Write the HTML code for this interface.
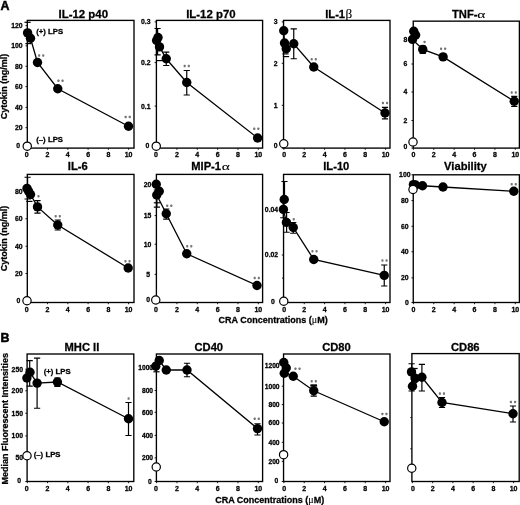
<!DOCTYPE html>
<html><head><meta charset="utf-8"><title>Figure</title>
<style>
html,body{margin:0;padding:0;background:#fff;}
body{width:520px;height:505px;overflow:hidden;font-family:"Liberation Sans", sans-serif;}
svg{display:block;font-family:"Liberation Sans", sans-serif;will-change:transform;}
text{stroke:#000;stroke-width:0.28px;}
tspan.g{stroke-width:0.1px;}

</style></head><body>
<svg width="520" height="505" viewBox="0 0 520 505">
<defs><filter id="soft" x="0" y="0" width="520" height="505" filterUnits="userSpaceOnUse"><feGaussianBlur stdDeviation="0.3"/></filter></defs>
<rect x="0" y="0" width="520" height="505" fill="#fff"/>
<g filter="url(#soft)">
<rect x="27.3" y="20.4" width="106.70" height="127.70" fill="none" stroke="#000" stroke-width="1.35"/>
<text x="83.3" y="17.7" text-anchor="middle" font-size="11.45" font-weight="bold">IL-12 p40</text>
<text x="22.60" y="28.07" text-anchor="end" font-size="6.85" font-weight="bold">120</text>
<line x1="25.5" y1="25.6" x2="27.3" y2="25.6" stroke="#000" stroke-width="0.9"/>
<text x="22.60" y="48.27" text-anchor="end" font-size="6.85" font-weight="bold">100</text>
<line x1="25.5" y1="45.8" x2="27.3" y2="45.8" stroke="#000" stroke-width="0.9"/>
<text x="22.60" y="68.72" text-anchor="end" font-size="6.85" font-weight="bold">80</text>
<line x1="25.5" y1="66.25" x2="27.3" y2="66.25" stroke="#000" stroke-width="0.9"/>
<text x="22.60" y="89.07" text-anchor="end" font-size="6.85" font-weight="bold">60</text>
<line x1="25.5" y1="86.6" x2="27.3" y2="86.6" stroke="#000" stroke-width="0.9"/>
<text x="22.60" y="109.87" text-anchor="end" font-size="6.85" font-weight="bold">40</text>
<line x1="25.5" y1="107.4" x2="27.3" y2="107.4" stroke="#000" stroke-width="0.9"/>
<text x="22.60" y="130.17" text-anchor="end" font-size="6.85" font-weight="bold">20</text>
<line x1="25.5" y1="127.7" x2="27.3" y2="127.7" stroke="#000" stroke-width="0.9"/>
<text x="20.00" y="148.07" text-anchor="end" font-size="6.85" font-weight="bold">0</text>
<line x1="25.5" y1="148.1" x2="27.3" y2="148.1" stroke="#000" stroke-width="0.9"/>
<text x="26.60" y="157.12" text-anchor="middle" font-size="7.0" font-weight="bold">0</text>
<line x1="27.30" y1="148.1" x2="27.30" y2="149.79999999999998" stroke="#000" stroke-width="0.9"/>
<text x="47.56" y="157.12" text-anchor="middle" font-size="7.0" font-weight="bold">2</text>
<line x1="47.56" y1="148.1" x2="47.56" y2="149.79999999999998" stroke="#000" stroke-width="0.9"/>
<text x="67.82" y="157.12" text-anchor="middle" font-size="7.0" font-weight="bold">4</text>
<line x1="67.82" y1="148.1" x2="67.82" y2="149.79999999999998" stroke="#000" stroke-width="0.9"/>
<text x="88.08" y="157.12" text-anchor="middle" font-size="7.0" font-weight="bold">6</text>
<line x1="88.08" y1="148.1" x2="88.08" y2="149.79999999999998" stroke="#000" stroke-width="0.9"/>
<text x="108.34" y="157.12" text-anchor="middle" font-size="7.0" font-weight="bold">8</text>
<line x1="108.34" y1="148.1" x2="108.34" y2="149.79999999999998" stroke="#000" stroke-width="0.9"/>
<text x="128.60" y="157.12" text-anchor="middle" font-size="7.0" font-weight="bold">10</text>
<line x1="128.60" y1="148.1" x2="128.60" y2="149.79999999999998" stroke="#000" stroke-width="0.9"/>
<path d="M24.5 22.3H30.700000000000003" stroke="#000" stroke-width="1.2" fill="none"/>
<path d="M25.4 43.6H31.6" stroke="#000" stroke-width="1.2" fill="none"/>
<path d="M27.6 32.9L30.5 38.2L37.5 62.5L57.75 88.75L128.5 126.25" stroke="#000" stroke-width="1.3" fill="none"/>
<circle cx="27.6" cy="32.9" r="4.7" fill="#000"/>
<circle cx="30.5" cy="38.2" r="4.7" fill="#000"/>
<circle cx="37.5" cy="62.5" r="4.7" fill="#000"/>
<circle cx="57.75" cy="88.75" r="4.7" fill="#000"/>
<circle cx="128.5" cy="126.25" r="4.7" fill="#000"/>
<rect x="38.10" y="54.25" width="2.1" height="2.5" rx="0.7" fill="#747474"/>
<rect x="42.20" y="54.25" width="2.1" height="2.5" rx="0.7" fill="#747474"/>
<rect x="57.40" y="79.50" width="2.1" height="2.5" rx="0.7" fill="#747474"/>
<rect x="61.50" y="79.50" width="2.1" height="2.5" rx="0.7" fill="#747474"/>
<rect x="124.65" y="115.65" width="2.1" height="2.5" rx="0.7" fill="#747474"/>
<rect x="128.75" y="115.65" width="2.1" height="2.5" rx="0.7" fill="#747474"/>
<text x="36.2" y="34.0" font-size="7.8" font-weight="bold">(+) LPS</text>
<text x="36.2" y="141.5" font-size="7.8" font-weight="bold">(–) LPS</text>
<circle cx="27.25" cy="146.2" r="4.15" fill="#fff" stroke="#000" stroke-width="1.2"/>
<rect x="156.4" y="20.4" width="106.20" height="127.70" fill="none" stroke="#000" stroke-width="1.35"/>
<text x="210.9" y="17.7" text-anchor="middle" font-size="11.4" font-weight="bold">IL-12 p70</text>
<text x="150.50" y="24.37" text-anchor="end" font-size="6.85" font-weight="bold">0.3</text>
<line x1="154.6" y1="21.9" x2="156.4" y2="21.9" stroke="#000" stroke-width="0.9"/>
<text x="150.50" y="65.07" text-anchor="end" font-size="6.85" font-weight="bold">0.2</text>
<line x1="154.6" y1="62.6" x2="156.4" y2="62.6" stroke="#000" stroke-width="0.9"/>
<text x="150.50" y="108.57" text-anchor="end" font-size="6.85" font-weight="bold">0.1</text>
<line x1="154.6" y1="106.1" x2="156.4" y2="106.1" stroke="#000" stroke-width="0.9"/>
<text x="149.30" y="148.07" text-anchor="end" font-size="6.85" font-weight="bold">0</text>
<line x1="154.6" y1="148.1" x2="156.4" y2="148.1" stroke="#000" stroke-width="0.9"/>
<text x="155.90" y="157.12" text-anchor="middle" font-size="7.0" font-weight="bold">0</text>
<line x1="156.60" y1="148.1" x2="156.60" y2="149.79999999999998" stroke="#000" stroke-width="0.9"/>
<text x="176.94" y="157.12" text-anchor="middle" font-size="7.0" font-weight="bold">2</text>
<line x1="176.94" y1="148.1" x2="176.94" y2="149.79999999999998" stroke="#000" stroke-width="0.9"/>
<text x="197.28" y="157.12" text-anchor="middle" font-size="7.0" font-weight="bold">4</text>
<line x1="197.28" y1="148.1" x2="197.28" y2="149.79999999999998" stroke="#000" stroke-width="0.9"/>
<text x="217.62" y="157.12" text-anchor="middle" font-size="7.0" font-weight="bold">6</text>
<line x1="217.62" y1="148.1" x2="217.62" y2="149.79999999999998" stroke="#000" stroke-width="0.9"/>
<text x="237.96" y="157.12" text-anchor="middle" font-size="7.0" font-weight="bold">8</text>
<line x1="237.96" y1="148.1" x2="237.96" y2="149.79999999999998" stroke="#000" stroke-width="0.9"/>
<text x="258.30" y="157.12" text-anchor="middle" font-size="7.0" font-weight="bold">10</text>
<line x1="258.30" y1="148.1" x2="258.30" y2="149.79999999999998" stroke="#000" stroke-width="0.9"/>
<path d="M157.6 28.5V54.8M154.5 28.5H160.7M154.5 54.8H160.7" stroke="#000" stroke-width="1.2" fill="none"/>
<path d="M156.4 60.6H162.6" stroke="#000" stroke-width="1.2" fill="none"/>
<path d="M166.25 52.2V65.5M163.15 52.2H169.35M163.15 65.5H169.35" stroke="#000" stroke-width="1.2" fill="none"/>
<path d="M186.75 70.5V95.0M183.65 70.5H189.85M183.65 95.0H189.85" stroke="#000" stroke-width="1.2" fill="none"/>
<path d="M156.6 40.5L158.0 37.5L159.5 46.9L166.25 58.75L186.75 82.5L257.6 138.0" stroke="#000" stroke-width="1.3" fill="none"/>
<circle cx="156.6" cy="40.5" r="4.7" fill="#000"/>
<circle cx="158.0" cy="37.5" r="4.7" fill="#000"/>
<circle cx="159.5" cy="46.9" r="4.7" fill="#000"/>
<circle cx="166.25" cy="58.75" r="4.7" fill="#000"/>
<circle cx="186.75" cy="82.5" r="4.7" fill="#000"/>
<circle cx="257.6" cy="138.0" r="4.7" fill="#000"/>
<rect x="183.65" y="64.75" width="2.1" height="2.5" rx="0.7" fill="#747474"/>
<rect x="187.75" y="64.75" width="2.1" height="2.5" rx="0.7" fill="#747474"/>
<rect x="253.20" y="127.55" width="2.1" height="2.5" rx="0.7" fill="#747474"/>
<rect x="257.30" y="127.55" width="2.1" height="2.5" rx="0.7" fill="#747474"/>
<circle cx="156.25" cy="146.2" r="4.15" fill="#fff" stroke="#000" stroke-width="1.2"/>
<rect x="283.55" y="20.4" width="106.45" height="127.70" fill="none" stroke="#000" stroke-width="1.35"/>
<text x="345.1" y="17.7" text-anchor="end" font-size="11.2" font-weight="bold">IL-1</text>
<text transform="translate(345.4,17.7) scale(1.1,1)" font-size="12.0" font-family="Liberation Serif" style="stroke-width:0.1px">β</text>
<text x="277.60" y="24.37" text-anchor="end" font-size="6.85" font-weight="bold">3</text>
<line x1="281.75" y1="21.9" x2="283.55" y2="21.9" stroke="#000" stroke-width="0.9"/>
<text x="277.60" y="65.77" text-anchor="end" font-size="6.85" font-weight="bold">2</text>
<line x1="281.75" y1="63.3" x2="283.55" y2="63.3" stroke="#000" stroke-width="0.9"/>
<text x="277.60" y="107.77" text-anchor="end" font-size="6.85" font-weight="bold">1</text>
<line x1="281.75" y1="105.3" x2="283.55" y2="105.3" stroke="#000" stroke-width="0.9"/>
<text x="277.60" y="148.07" text-anchor="end" font-size="6.85" font-weight="bold">0</text>
<line x1="281.75" y1="148.1" x2="283.55" y2="148.1" stroke="#000" stroke-width="0.9"/>
<text x="284.25" y="157.12" text-anchor="middle" font-size="7.0" font-weight="bold">0</text>
<line x1="283.90" y1="148.1" x2="283.90" y2="149.79999999999998" stroke="#000" stroke-width="0.9"/>
<text x="304.24" y="157.12" text-anchor="middle" font-size="7.0" font-weight="bold">2</text>
<line x1="304.24" y1="148.1" x2="304.24" y2="149.79999999999998" stroke="#000" stroke-width="0.9"/>
<text x="324.58" y="157.12" text-anchor="middle" font-size="7.0" font-weight="bold">4</text>
<line x1="324.58" y1="148.1" x2="324.58" y2="149.79999999999998" stroke="#000" stroke-width="0.9"/>
<text x="344.92" y="157.12" text-anchor="middle" font-size="7.0" font-weight="bold">6</text>
<line x1="344.92" y1="148.1" x2="344.92" y2="149.79999999999998" stroke="#000" stroke-width="0.9"/>
<text x="365.26" y="157.12" text-anchor="middle" font-size="7.0" font-weight="bold">8</text>
<line x1="365.26" y1="148.1" x2="365.26" y2="149.79999999999998" stroke="#000" stroke-width="0.9"/>
<text x="385.60" y="157.12" text-anchor="middle" font-size="7.0" font-weight="bold">10</text>
<line x1="385.60" y1="148.1" x2="385.60" y2="149.79999999999998" stroke="#000" stroke-width="0.9"/>
<path d="M293.75 28.8V58.75M290.65 28.8H296.85M290.65 58.75H296.85" stroke="#000" stroke-width="1.2" fill="none"/>
<path d="M385.0 107.4V118.8M381.9 107.4H388.1M381.9 118.8H388.1" stroke="#000" stroke-width="1.2" fill="none"/>
<path d="M282.4 53.9H288.6" stroke="#000" stroke-width="1.2" fill="none"/>
<path d="M282.9 56.6H289.1" stroke="#000" stroke-width="1.2" fill="none"/>
<path d="M283.75 30.75L284.5 43.0L286.25 48.75L293.75 43.75L313.75 67.0L385.0 113.0" stroke="#000" stroke-width="1.3" fill="none"/>
<circle cx="283.75" cy="30.75" r="4.7" fill="#000"/>
<circle cx="284.5" cy="43.0" r="4.7" fill="#000"/>
<circle cx="286.25" cy="48.75" r="4.7" fill="#000"/>
<circle cx="293.75" cy="43.75" r="4.7" fill="#000"/>
<circle cx="313.75" cy="67.0" r="4.7" fill="#000"/>
<circle cx="385.0" cy="113.0" r="4.7" fill="#000"/>
<rect x="310.65" y="58.00" width="2.1" height="2.5" rx="0.7" fill="#747474"/>
<rect x="314.75" y="58.00" width="2.1" height="2.5" rx="0.7" fill="#747474"/>
<rect x="381.90" y="101.75" width="2.1" height="2.5" rx="0.7" fill="#747474"/>
<rect x="386.00" y="101.75" width="2.1" height="2.5" rx="0.7" fill="#747474"/>
<circle cx="283.75" cy="143.75" r="4.15" fill="#fff" stroke="#000" stroke-width="1.2"/>
<rect x="413.25" y="21.15" width="106.15" height="126.95" fill="none" stroke="#000" stroke-width="1.35"/>
<text x="477.5" y="17.7" text-anchor="end" font-size="11.2" font-weight="bold">TNF-</text>
<text transform="translate(477.3,17.7) scale(1.42,1)" font-size="10.8" font-family="Liberation Serif" style="stroke-width:0.1px">α</text>
<text x="407.30" y="42.47" text-anchor="end" font-size="6.85" font-weight="bold">8</text>
<line x1="411.45" y1="40.0" x2="413.25" y2="40.0" stroke="#000" stroke-width="0.9"/>
<text x="407.30" y="66.47" text-anchor="end" font-size="6.85" font-weight="bold">6</text>
<line x1="411.45" y1="64.0" x2="413.25" y2="64.0" stroke="#000" stroke-width="0.9"/>
<text x="407.30" y="94.47" text-anchor="end" font-size="6.85" font-weight="bold">4</text>
<line x1="411.45" y1="92.0" x2="413.25" y2="92.0" stroke="#000" stroke-width="0.9"/>
<text x="407.30" y="122.97" text-anchor="end" font-size="6.85" font-weight="bold">2</text>
<line x1="411.45" y1="120.5" x2="413.25" y2="120.5" stroke="#000" stroke-width="0.9"/>
<text x="407.30" y="148.67" text-anchor="end" font-size="6.85" font-weight="bold">0</text>
<line x1="411.45" y1="148.1" x2="413.25" y2="148.1" stroke="#000" stroke-width="0.9"/>
<text x="413.40" y="157.12" text-anchor="middle" font-size="7.0" font-weight="bold">0</text>
<line x1="413.40" y1="148.1" x2="413.40" y2="149.79999999999998" stroke="#000" stroke-width="0.9"/>
<text x="433.78" y="157.12" text-anchor="middle" font-size="7.0" font-weight="bold">2</text>
<line x1="433.78" y1="148.1" x2="433.78" y2="149.79999999999998" stroke="#000" stroke-width="0.9"/>
<text x="454.16" y="157.12" text-anchor="middle" font-size="7.0" font-weight="bold">4</text>
<line x1="454.16" y1="148.1" x2="454.16" y2="149.79999999999998" stroke="#000" stroke-width="0.9"/>
<text x="474.54" y="157.12" text-anchor="middle" font-size="7.0" font-weight="bold">6</text>
<line x1="474.54" y1="148.1" x2="474.54" y2="149.79999999999998" stroke="#000" stroke-width="0.9"/>
<text x="494.92" y="157.12" text-anchor="middle" font-size="7.0" font-weight="bold">8</text>
<line x1="494.92" y1="148.1" x2="494.92" y2="149.79999999999998" stroke="#000" stroke-width="0.9"/>
<text x="515.30" y="157.12" text-anchor="middle" font-size="7.0" font-weight="bold">10</text>
<line x1="515.30" y1="148.1" x2="515.30" y2="149.79999999999998" stroke="#000" stroke-width="0.9"/>
<path d="M422.75 46.0V53.5M419.65 46.0H425.85M419.65 53.5H425.85" stroke="#000" stroke-width="1.2" fill="none"/>
<path d="M514.25 96.3V106.3M511.15 96.3H517.35M511.15 106.3H517.35" stroke="#000" stroke-width="1.2" fill="none"/>
<path d="M413.75 31.25L415.6 35.0L412.5 39.4L422.75 49.4L443.1 56.9L514.25 101.25" stroke="#000" stroke-width="1.3" fill="none"/>
<circle cx="413.75" cy="31.25" r="4.7" fill="#000"/>
<circle cx="415.6" cy="35.0" r="4.7" fill="#000"/>
<circle cx="412.5" cy="39.4" r="4.7" fill="#000"/>
<circle cx="422.75" cy="49.4" r="4.7" fill="#000"/>
<circle cx="443.1" cy="56.9" r="4.7" fill="#000"/>
<circle cx="514.25" cy="101.25" r="4.7" fill="#000"/>
<rect x="423.55" y="40.65" width="2.1" height="2.5" rx="0.7" fill="#747474"/>
<rect x="440.00" y="47.50" width="2.1" height="2.5" rx="0.7" fill="#747474"/>
<rect x="444.10" y="47.50" width="2.1" height="2.5" rx="0.7" fill="#747474"/>
<rect x="510.65" y="91.25" width="2.1" height="2.5" rx="0.7" fill="#747474"/>
<rect x="514.75" y="91.25" width="2.1" height="2.5" rx="0.7" fill="#747474"/>
<circle cx="413.0" cy="142.0" r="4.15" fill="#fff" stroke="#000" stroke-width="1.2"/>
<rect x="27.3" y="174.4" width="106.70" height="128.10" fill="none" stroke="#000" stroke-width="1.35"/>
<text x="77.8" y="170.2" text-anchor="middle" font-size="11.2" font-weight="bold">IL-6</text>
<text x="22.50" y="194.37" text-anchor="end" font-size="6.85" font-weight="bold">80</text>
<line x1="25.5" y1="191.9" x2="27.3" y2="191.9" stroke="#000" stroke-width="0.9"/>
<text x="22.50" y="221.22" text-anchor="end" font-size="6.85" font-weight="bold">60</text>
<line x1="25.5" y1="218.75" x2="27.3" y2="218.75" stroke="#000" stroke-width="0.9"/>
<text x="22.50" y="248.72" text-anchor="end" font-size="6.85" font-weight="bold">40</text>
<line x1="25.5" y1="246.25" x2="27.3" y2="246.25" stroke="#000" stroke-width="0.9"/>
<text x="22.50" y="275.97" text-anchor="end" font-size="6.85" font-weight="bold">20</text>
<line x1="25.5" y1="273.5" x2="27.3" y2="273.5" stroke="#000" stroke-width="0.9"/>
<text x="20.30" y="302.77" text-anchor="end" font-size="6.85" font-weight="bold">0</text>
<line x1="25.5" y1="302.5" x2="27.3" y2="302.5" stroke="#000" stroke-width="0.9"/>
<text x="26.60" y="311.52" text-anchor="middle" font-size="7.0" font-weight="bold">0</text>
<line x1="27.30" y1="302.5" x2="27.30" y2="304.2" stroke="#000" stroke-width="0.9"/>
<text x="47.56" y="311.52" text-anchor="middle" font-size="7.0" font-weight="bold">2</text>
<line x1="47.56" y1="302.5" x2="47.56" y2="304.2" stroke="#000" stroke-width="0.9"/>
<text x="67.82" y="311.52" text-anchor="middle" font-size="7.0" font-weight="bold">4</text>
<line x1="67.82" y1="302.5" x2="67.82" y2="304.2" stroke="#000" stroke-width="0.9"/>
<text x="88.08" y="311.52" text-anchor="middle" font-size="7.0" font-weight="bold">6</text>
<line x1="88.08" y1="302.5" x2="88.08" y2="304.2" stroke="#000" stroke-width="0.9"/>
<text x="108.34" y="311.52" text-anchor="middle" font-size="7.0" font-weight="bold">8</text>
<line x1="108.34" y1="302.5" x2="108.34" y2="304.2" stroke="#000" stroke-width="0.9"/>
<text x="128.60" y="311.52" text-anchor="middle" font-size="7.0" font-weight="bold">10</text>
<line x1="128.60" y1="302.5" x2="128.60" y2="304.2" stroke="#000" stroke-width="0.9"/>
<path d="M27.6 177.25V199.0M24.5 177.25H30.700000000000003M24.5 199.0H30.700000000000003" stroke="#000" stroke-width="1.2" fill="none"/>
<path d="M26.299999999999997 201.4H32.5" stroke="#000" stroke-width="1.2" fill="none"/>
<path d="M37.5 200.6V213.1M34.4 200.6H40.6M34.4 213.1H40.6" stroke="#000" stroke-width="1.2" fill="none"/>
<path d="M57.75 220.0V230.0M54.65 220.0H60.85M54.65 230.0H60.85" stroke="#000" stroke-width="1.2" fill="none"/>
<path d="M27.0 188.4L28.6 191.2L30.5 194.5L37.5 206.9L57.75 225.0L128.2 268.0" stroke="#000" stroke-width="1.3" fill="none"/>
<circle cx="27.0" cy="188.4" r="4.7" fill="#000"/>
<circle cx="28.6" cy="191.2" r="4.7" fill="#000"/>
<circle cx="30.5" cy="194.5" r="4.7" fill="#000"/>
<circle cx="37.5" cy="206.9" r="4.7" fill="#000"/>
<circle cx="57.75" cy="225.0" r="4.7" fill="#000"/>
<circle cx="128.2" cy="268.0" r="4.7" fill="#000"/>
<rect x="37.45" y="195.00" width="2.1" height="2.5" rx="0.7" fill="#747474"/>
<rect x="54.65" y="215.00" width="2.1" height="2.5" rx="0.7" fill="#747474"/>
<rect x="58.75" y="215.00" width="2.1" height="2.5" rx="0.7" fill="#747474"/>
<rect x="124.40" y="260.00" width="2.1" height="2.5" rx="0.7" fill="#747474"/>
<rect x="128.50" y="260.00" width="2.1" height="2.5" rx="0.7" fill="#747474"/>
<circle cx="27.0" cy="300.75" r="4.15" fill="#fff" stroke="#000" stroke-width="1.2"/>
<rect x="156.4" y="174.4" width="106.20" height="128.10" fill="none" stroke="#000" stroke-width="1.35"/>
<text x="221.0" y="170.2" text-anchor="end" font-size="11.15" font-weight="bold">MIP-1</text>
<text transform="translate(221.7,170.2) scale(1.42,1)" font-size="10.8" font-family="Liberation Serif" style="stroke-width:0.1px">α</text>
<text x="151.30" y="187.07" text-anchor="end" font-size="6.85" font-weight="bold">20</text>
<line x1="154.6" y1="184.6" x2="156.4" y2="184.6" stroke="#000" stroke-width="0.9"/>
<text x="151.30" y="218.07" text-anchor="end" font-size="6.85" font-weight="bold">15</text>
<line x1="154.6" y1="215.6" x2="156.4" y2="215.6" stroke="#000" stroke-width="0.9"/>
<text x="151.30" y="246.72" text-anchor="end" font-size="6.85" font-weight="bold">10</text>
<line x1="154.6" y1="244.25" x2="156.4" y2="244.25" stroke="#000" stroke-width="0.9"/>
<text x="150.10" y="276.87" text-anchor="end" font-size="6.85" font-weight="bold">5</text>
<line x1="154.6" y1="274.4" x2="156.4" y2="274.4" stroke="#000" stroke-width="0.9"/>
<text x="150.10" y="302.47" text-anchor="end" font-size="6.85" font-weight="bold">0</text>
<line x1="154.6" y1="302.5" x2="156.4" y2="302.5" stroke="#000" stroke-width="0.9"/>
<text x="155.90" y="311.52" text-anchor="middle" font-size="7.0" font-weight="bold">0</text>
<line x1="156.60" y1="302.5" x2="156.60" y2="304.2" stroke="#000" stroke-width="0.9"/>
<text x="176.94" y="311.52" text-anchor="middle" font-size="7.0" font-weight="bold">2</text>
<line x1="176.94" y1="302.5" x2="176.94" y2="304.2" stroke="#000" stroke-width="0.9"/>
<text x="197.28" y="311.52" text-anchor="middle" font-size="7.0" font-weight="bold">4</text>
<line x1="197.28" y1="302.5" x2="197.28" y2="304.2" stroke="#000" stroke-width="0.9"/>
<text x="217.62" y="311.52" text-anchor="middle" font-size="7.0" font-weight="bold">6</text>
<line x1="217.62" y1="302.5" x2="217.62" y2="304.2" stroke="#000" stroke-width="0.9"/>
<text x="237.96" y="311.52" text-anchor="middle" font-size="7.0" font-weight="bold">8</text>
<line x1="237.96" y1="302.5" x2="237.96" y2="304.2" stroke="#000" stroke-width="0.9"/>
<text x="258.30" y="311.52" text-anchor="middle" font-size="7.0" font-weight="bold">10</text>
<line x1="258.30" y1="302.5" x2="258.30" y2="304.2" stroke="#000" stroke-width="0.9"/>
<path d="M156.9 190.0V207.2M153.8 190.0H160.0M153.8 207.2H160.0" stroke="#000" stroke-width="1.2" fill="none"/>
<path d="M153.8 202.8H160.0" stroke="#000" stroke-width="1.2" fill="none"/>
<path d="M166.25 209.0V219.2M163.15 209.0H169.35M163.15 219.2H169.35" stroke="#000" stroke-width="1.2" fill="none"/>
<path d="M156.25 184.25L159.25 191.25L156.75 195.0L166.25 213.75L186.75 253.75L257.0 285.5" stroke="#000" stroke-width="1.3" fill="none"/>
<circle cx="156.25" cy="184.25" r="4.7" fill="#000"/>
<circle cx="159.25" cy="191.25" r="4.7" fill="#000"/>
<circle cx="156.75" cy="195.0" r="4.7" fill="#000"/>
<circle cx="166.25" cy="213.75" r="4.7" fill="#000"/>
<circle cx="186.75" cy="253.75" r="4.7" fill="#000"/>
<circle cx="257.0" cy="285.5" r="4.7" fill="#000"/>
<rect x="166.15" y="204.50" width="2.1" height="2.5" rx="0.7" fill="#747474"/>
<rect x="170.25" y="204.50" width="2.1" height="2.5" rx="0.7" fill="#747474"/>
<rect x="186.15" y="245.00" width="2.1" height="2.5" rx="0.7" fill="#747474"/>
<rect x="190.25" y="245.00" width="2.1" height="2.5" rx="0.7" fill="#747474"/>
<rect x="253.65" y="276.75" width="2.1" height="2.5" rx="0.7" fill="#747474"/>
<rect x="257.75" y="276.75" width="2.1" height="2.5" rx="0.7" fill="#747474"/>
<circle cx="155.75" cy="300.0" r="4.15" fill="#fff" stroke="#000" stroke-width="1.2"/>
<rect x="283.55" y="174.4" width="106.45" height="128.10" fill="none" stroke="#000" stroke-width="1.35"/>
<text x="336.3" y="170.2" text-anchor="middle" font-size="11.2" font-weight="bold">IL-10</text>
<text x="278.20" y="211.72" text-anchor="end" font-size="6.85" font-weight="bold">0.04</text>
<line x1="281.75" y1="209.25" x2="283.55" y2="209.25" stroke="#000" stroke-width="0.9"/>
<text x="278.20" y="257.47" text-anchor="end" font-size="6.85" font-weight="bold">0.02</text>
<line x1="281.75" y1="255.0" x2="283.55" y2="255.0" stroke="#000" stroke-width="0.9"/>
<text x="274.70" y="303.97" text-anchor="end" font-size="6.85" font-weight="bold">0</text>
<line x1="281.75" y1="302.5" x2="283.55" y2="302.5" stroke="#000" stroke-width="0.9"/>
<line x1="282.05" y1="278.1" x2="283.55" y2="278.1" stroke="#000" stroke-width="0.9"/>
<text x="284.25" y="311.52" text-anchor="middle" font-size="7.0" font-weight="bold">0</text>
<line x1="283.90" y1="302.5" x2="283.90" y2="304.2" stroke="#000" stroke-width="0.9"/>
<text x="304.24" y="311.52" text-anchor="middle" font-size="7.0" font-weight="bold">2</text>
<line x1="304.24" y1="302.5" x2="304.24" y2="304.2" stroke="#000" stroke-width="0.9"/>
<text x="324.58" y="311.52" text-anchor="middle" font-size="7.0" font-weight="bold">4</text>
<line x1="324.58" y1="302.5" x2="324.58" y2="304.2" stroke="#000" stroke-width="0.9"/>
<text x="344.92" y="311.52" text-anchor="middle" font-size="7.0" font-weight="bold">6</text>
<line x1="344.92" y1="302.5" x2="344.92" y2="304.2" stroke="#000" stroke-width="0.9"/>
<text x="365.26" y="311.52" text-anchor="middle" font-size="7.0" font-weight="bold">8</text>
<line x1="365.26" y1="302.5" x2="365.26" y2="304.2" stroke="#000" stroke-width="0.9"/>
<text x="385.60" y="311.52" text-anchor="middle" font-size="7.0" font-weight="bold">10</text>
<line x1="385.60" y1="302.5" x2="385.60" y2="304.2" stroke="#000" stroke-width="0.9"/>
<path d="M284.5 181.5V200.0M281.4 181.5H287.6M281.4 200.0H287.6" stroke="#000" stroke-width="1.2" fill="none"/>
<path d="M283.3 201.0V217.75M280.2 201.0H286.40000000000003M280.2 217.75H286.40000000000003" stroke="#000" stroke-width="1.2" fill="none"/>
<path d="M286.6 212.5V232.25M283.5 212.5H289.70000000000005M283.5 232.25H289.70000000000005" stroke="#000" stroke-width="1.2" fill="none"/>
<path d="M293.25 222.5V233.25M290.15 222.5H296.35M290.15 233.25H296.35" stroke="#000" stroke-width="1.2" fill="none"/>
<path d="M384.25 265.0V286.0M381.15 265.0H387.35M381.15 286.0H387.35" stroke="#000" stroke-width="1.2" fill="none"/>
<path d="M284.25 199.5L283.4 209.4L286.4 222.4L293.25 227.5L313.75 259.5L384.25 275.4" stroke="#000" stroke-width="1.3" fill="none"/>
<circle cx="284.25" cy="199.5" r="4.7" fill="#000"/>
<circle cx="283.4" cy="209.4" r="4.7" fill="#000"/>
<circle cx="286.4" cy="222.4" r="4.7" fill="#000"/>
<circle cx="293.25" cy="227.5" r="4.7" fill="#000"/>
<circle cx="313.75" cy="259.5" r="4.7" fill="#000"/>
<circle cx="384.25" cy="275.4" r="4.7" fill="#000"/>
<rect x="292.70" y="218.00" width="2.1" height="2.5" rx="0.7" fill="#747474"/>
<rect x="311.40" y="250.00" width="2.1" height="2.5" rx="0.7" fill="#747474"/>
<rect x="315.50" y="250.00" width="2.1" height="2.5" rx="0.7" fill="#747474"/>
<rect x="381.40" y="259.25" width="2.1" height="2.5" rx="0.7" fill="#747474"/>
<rect x="385.50" y="259.25" width="2.1" height="2.5" rx="0.7" fill="#747474"/>
<circle cx="283.75" cy="301.25" r="4.15" fill="#fff" stroke="#000" stroke-width="1.2"/>
<rect x="413.25" y="174.8" width="106.15" height="127.70" fill="none" stroke="#000" stroke-width="1.35"/>
<text x="465.4" y="170.2" text-anchor="middle" font-size="11.2" font-weight="bold">Viability</text>
<text x="410.50" y="177.27" text-anchor="end" font-size="6.85" font-weight="bold">100</text>
<line x1="411.45" y1="174.8" x2="413.25" y2="174.8" stroke="#000" stroke-width="0.9"/>
<text x="408.70" y="203.07" text-anchor="end" font-size="6.85" font-weight="bold">80</text>
<line x1="411.45" y1="200.6" x2="413.25" y2="200.6" stroke="#000" stroke-width="0.9"/>
<text x="408.70" y="228.72" text-anchor="end" font-size="6.85" font-weight="bold">60</text>
<line x1="411.45" y1="226.25" x2="413.25" y2="226.25" stroke="#000" stroke-width="0.9"/>
<text x="408.70" y="254.22" text-anchor="end" font-size="6.85" font-weight="bold">40</text>
<line x1="411.45" y1="251.75" x2="413.25" y2="251.75" stroke="#000" stroke-width="0.9"/>
<text x="408.70" y="280.37" text-anchor="end" font-size="6.85" font-weight="bold">20</text>
<line x1="411.45" y1="277.9" x2="413.25" y2="277.9" stroke="#000" stroke-width="0.9"/>
<text x="408.70" y="304.67" text-anchor="end" font-size="6.85" font-weight="bold">0</text>
<line x1="411.45" y1="302.5" x2="413.25" y2="302.5" stroke="#000" stroke-width="0.9"/>
<text x="413.40" y="311.52" text-anchor="middle" font-size="7.0" font-weight="bold">0</text>
<line x1="413.40" y1="302.5" x2="413.40" y2="304.2" stroke="#000" stroke-width="0.9"/>
<text x="433.78" y="311.52" text-anchor="middle" font-size="7.0" font-weight="bold">2</text>
<line x1="433.78" y1="302.5" x2="433.78" y2="304.2" stroke="#000" stroke-width="0.9"/>
<text x="454.16" y="311.52" text-anchor="middle" font-size="7.0" font-weight="bold">4</text>
<line x1="454.16" y1="302.5" x2="454.16" y2="304.2" stroke="#000" stroke-width="0.9"/>
<text x="474.54" y="311.52" text-anchor="middle" font-size="7.0" font-weight="bold">6</text>
<line x1="474.54" y1="302.5" x2="474.54" y2="304.2" stroke="#000" stroke-width="0.9"/>
<text x="494.92" y="311.52" text-anchor="middle" font-size="7.0" font-weight="bold">8</text>
<line x1="494.92" y1="302.5" x2="494.92" y2="304.2" stroke="#000" stroke-width="0.9"/>
<text x="515.30" y="311.52" text-anchor="middle" font-size="7.0" font-weight="bold">10</text>
<line x1="515.30" y1="302.5" x2="515.30" y2="304.2" stroke="#000" stroke-width="0.9"/>
<path d="M413.4 184.6L415.5 185.0L422.5 185.75L443.0 187.0L513.8 191.3" stroke="#000" stroke-width="1.3" fill="none"/>
<circle cx="413.4" cy="184.6" r="4.7" fill="#000"/>
<circle cx="415.5" cy="185.0" r="4.7" fill="#000"/>
<circle cx="422.5" cy="185.75" r="4.7" fill="#000"/>
<circle cx="443.0" cy="187.0" r="4.7" fill="#000"/>
<circle cx="513.8" cy="191.3" r="4.7" fill="#000"/>
<rect x="510.65" y="183.00" width="2.1" height="2.5" rx="0.7" fill="#747474"/>
<rect x="514.75" y="183.00" width="2.1" height="2.5" rx="0.7" fill="#747474"/>
<circle cx="413.0" cy="189.5" r="4.15" fill="#fff" stroke="#000" stroke-width="1.2"/>
<rect x="27.1" y="354.0" width="106.70" height="127.50" fill="none" stroke="#000" stroke-width="1.35"/>
<text x="81.9" y="351.0" text-anchor="middle" font-size="11.2" font-weight="bold">MHC II</text>
<text x="23.00" y="371.67" text-anchor="end" font-size="6.85" font-weight="bold">250</text>
<line x1="25.3" y1="369.2" x2="27.1" y2="369.2" stroke="#000" stroke-width="0.9"/>
<text x="23.00" y="393.22" text-anchor="end" font-size="6.85" font-weight="bold">200</text>
<line x1="25.3" y1="390.75" x2="27.1" y2="390.75" stroke="#000" stroke-width="0.9"/>
<text x="23.00" y="415.72" text-anchor="end" font-size="6.85" font-weight="bold">150</text>
<line x1="25.3" y1="413.25" x2="27.1" y2="413.25" stroke="#000" stroke-width="0.9"/>
<text x="23.00" y="438.37" text-anchor="end" font-size="6.85" font-weight="bold">100</text>
<line x1="25.3" y1="435.9" x2="27.1" y2="435.9" stroke="#000" stroke-width="0.9"/>
<text x="23.00" y="460.22" text-anchor="end" font-size="6.85" font-weight="bold">50</text>
<line x1="25.3" y1="457.75" x2="27.1" y2="457.75" stroke="#000" stroke-width="0.9"/>
<text x="21.00" y="482.72" text-anchor="end" font-size="6.85" font-weight="bold">0</text>
<line x1="25.3" y1="481.5" x2="27.1" y2="481.5" stroke="#000" stroke-width="0.9"/>
<text x="26.60" y="490.52" text-anchor="middle" font-size="7.0" font-weight="bold">0</text>
<line x1="27.30" y1="481.5" x2="27.30" y2="483.2" stroke="#000" stroke-width="0.9"/>
<text x="47.56" y="490.52" text-anchor="middle" font-size="7.0" font-weight="bold">2</text>
<line x1="47.56" y1="481.5" x2="47.56" y2="483.2" stroke="#000" stroke-width="0.9"/>
<text x="67.82" y="490.52" text-anchor="middle" font-size="7.0" font-weight="bold">4</text>
<line x1="67.82" y1="481.5" x2="67.82" y2="483.2" stroke="#000" stroke-width="0.9"/>
<text x="88.08" y="490.52" text-anchor="middle" font-size="7.0" font-weight="bold">6</text>
<line x1="88.08" y1="481.5" x2="88.08" y2="483.2" stroke="#000" stroke-width="0.9"/>
<text x="108.34" y="490.52" text-anchor="middle" font-size="7.0" font-weight="bold">8</text>
<line x1="108.34" y1="481.5" x2="108.34" y2="483.2" stroke="#000" stroke-width="0.9"/>
<text x="128.60" y="490.52" text-anchor="middle" font-size="7.0" font-weight="bold">10</text>
<line x1="128.60" y1="481.5" x2="128.60" y2="483.2" stroke="#000" stroke-width="0.9"/>
<path d="M29.7 360.6V386.2M26.599999999999998 360.6H32.8M26.599999999999998 386.2H32.8" stroke="#000" stroke-width="1.2" fill="none"/>
<path d="M37.1 358.1V408.25M34.0 358.1H40.2M34.0 408.25H40.2" stroke="#000" stroke-width="1.2" fill="none"/>
<path d="M128.5 402.5V435.5M125.4 402.5H131.6M125.4 435.5H131.6" stroke="#000" stroke-width="1.2" fill="none"/>
<path d="M57.4 378.0V386.4M54.3 378.0H60.5M54.3 386.4H60.5" stroke="#000" stroke-width="1.2" fill="none"/>
<path d="M26.9 378.0L30.0 372.3L37.1 383.1L57.4 382.0L128.5 418.75" stroke="#000" stroke-width="1.3" fill="none"/>
<circle cx="26.9" cy="378.0" r="4.7" fill="#000"/>
<circle cx="30.0" cy="372.3" r="4.7" fill="#000"/>
<circle cx="37.1" cy="383.1" r="4.7" fill="#000"/>
<circle cx="57.4" cy="382.0" r="4.7" fill="#000"/>
<circle cx="128.5" cy="418.75" r="4.7" fill="#000"/>
<rect x="127.55" y="397.35" width="2.1" height="2.5" rx="0.7" fill="#747474"/>
<text x="43.7" y="374.2" font-size="7.8" font-weight="bold">(+) LPS</text>
<text x="33.7" y="457.2" font-size="7.8" font-weight="bold">(–) LPS</text>
<circle cx="27.0" cy="455.75" r="4.15" fill="#fff" stroke="#000" stroke-width="1.2"/>
<rect x="156.4" y="354.0" width="106.20" height="127.50" fill="none" stroke="#000" stroke-width="1.35"/>
<text x="208.8" y="351.0" text-anchor="middle" font-size="11.2" font-weight="bold">CD40</text>
<text x="153.10" y="370.31" text-anchor="end" font-size="6.7" font-weight="bold">1000</text>
<line x1="154.6" y1="367.9" x2="156.4" y2="367.9" stroke="#000" stroke-width="0.9"/>
<text x="153.10" y="392.91" text-anchor="end" font-size="6.7" font-weight="bold">800</text>
<line x1="154.6" y1="390.5" x2="156.4" y2="390.5" stroke="#000" stroke-width="0.9"/>
<text x="153.10" y="414.71" text-anchor="end" font-size="6.7" font-weight="bold">600</text>
<line x1="154.6" y1="412.3" x2="156.4" y2="412.3" stroke="#000" stroke-width="0.9"/>
<text x="153.10" y="437.81" text-anchor="end" font-size="6.7" font-weight="bold">400</text>
<line x1="154.6" y1="435.4" x2="156.4" y2="435.4" stroke="#000" stroke-width="0.9"/>
<text x="153.10" y="460.31" text-anchor="end" font-size="6.7" font-weight="bold">200</text>
<line x1="154.6" y1="457.9" x2="156.4" y2="457.9" stroke="#000" stroke-width="0.9"/>
<text x="151.70" y="483.71" text-anchor="end" font-size="6.7" font-weight="bold">0</text>
<line x1="154.6" y1="481.5" x2="156.4" y2="481.5" stroke="#000" stroke-width="0.9"/>
<text x="155.90" y="490.52" text-anchor="middle" font-size="7.0" font-weight="bold">0</text>
<line x1="156.60" y1="481.5" x2="156.60" y2="483.2" stroke="#000" stroke-width="0.9"/>
<text x="176.94" y="490.52" text-anchor="middle" font-size="7.0" font-weight="bold">2</text>
<line x1="176.94" y1="481.5" x2="176.94" y2="483.2" stroke="#000" stroke-width="0.9"/>
<text x="197.28" y="490.52" text-anchor="middle" font-size="7.0" font-weight="bold">4</text>
<line x1="197.28" y1="481.5" x2="197.28" y2="483.2" stroke="#000" stroke-width="0.9"/>
<text x="217.62" y="490.52" text-anchor="middle" font-size="7.0" font-weight="bold">6</text>
<line x1="217.62" y1="481.5" x2="217.62" y2="483.2" stroke="#000" stroke-width="0.9"/>
<text x="237.96" y="490.52" text-anchor="middle" font-size="7.0" font-weight="bold">8</text>
<line x1="237.96" y1="481.5" x2="237.96" y2="483.2" stroke="#000" stroke-width="0.9"/>
<text x="258.30" y="490.52" text-anchor="middle" font-size="7.0" font-weight="bold">10</text>
<line x1="258.30" y1="481.5" x2="258.30" y2="483.2" stroke="#000" stroke-width="0.9"/>
<path d="M187.0 363.25V376.75M183.9 363.25H190.1M183.9 376.75H190.1" stroke="#000" stroke-width="1.2" fill="none"/>
<path d="M257.5 423.75V435.0M254.4 423.75H260.6M254.4 435.0H260.6" stroke="#000" stroke-width="1.2" fill="none"/>
<path d="M153.4 371.8H159.6" stroke="#000" stroke-width="1.2" fill="none"/>
<path d="M155.75 366.25L159.25 360.5L166.25 370.0L187.0 370.0L257.5 428.6" stroke="#000" stroke-width="1.3" fill="none"/>
<circle cx="155.75" cy="366.25" r="4.7" fill="#000"/>
<circle cx="159.25" cy="360.5" r="4.7" fill="#000"/>
<circle cx="166.25" cy="370.0" r="4.7" fill="#000"/>
<circle cx="187.0" cy="370.0" r="4.7" fill="#000"/>
<circle cx="257.5" cy="428.6" r="4.7" fill="#000"/>
<rect x="253.65" y="417.50" width="2.1" height="2.5" rx="0.7" fill="#747474"/>
<rect x="257.75" y="417.50" width="2.1" height="2.5" rx="0.7" fill="#747474"/>
<circle cx="156.25" cy="467.0" r="4.15" fill="#fff" stroke="#000" stroke-width="1.2"/>
<rect x="283.55" y="354.0" width="106.45" height="127.50" fill="none" stroke="#000" stroke-width="1.35"/>
<text x="336.5" y="351.0" text-anchor="middle" font-size="11.2" font-weight="bold">CD80</text>
<text x="279.60" y="368.16" text-anchor="end" font-size="6.7" font-weight="bold">1200</text>
<line x1="281.75" y1="365.75" x2="283.55" y2="365.75" stroke="#000" stroke-width="0.9"/>
<text x="279.60" y="388.61" text-anchor="end" font-size="6.7" font-weight="bold">1000</text>
<line x1="281.75" y1="386.2" x2="283.55" y2="386.2" stroke="#000" stroke-width="0.9"/>
<text x="279.60" y="407.01" text-anchor="end" font-size="6.7" font-weight="bold">800</text>
<line x1="281.75" y1="404.6" x2="283.55" y2="404.6" stroke="#000" stroke-width="0.9"/>
<text x="279.60" y="425.41" text-anchor="end" font-size="6.7" font-weight="bold">600</text>
<line x1="281.75" y1="423.0" x2="283.55" y2="423.0" stroke="#000" stroke-width="0.9"/>
<text x="279.60" y="444.71" text-anchor="end" font-size="6.7" font-weight="bold">400</text>
<line x1="281.75" y1="442.3" x2="283.55" y2="442.3" stroke="#000" stroke-width="0.9"/>
<text x="279.60" y="463.81" text-anchor="end" font-size="6.7" font-weight="bold">200</text>
<line x1="281.75" y1="461.4" x2="283.55" y2="461.4" stroke="#000" stroke-width="0.9"/>
<text x="278.20" y="483.01" text-anchor="end" font-size="6.7" font-weight="bold">0</text>
<line x1="281.75" y1="481.5" x2="283.55" y2="481.5" stroke="#000" stroke-width="0.9"/>
<text x="284.25" y="490.52" text-anchor="middle" font-size="7.0" font-weight="bold">0</text>
<line x1="283.90" y1="481.5" x2="283.90" y2="483.2" stroke="#000" stroke-width="0.9"/>
<text x="304.24" y="490.52" text-anchor="middle" font-size="7.0" font-weight="bold">2</text>
<line x1="304.24" y1="481.5" x2="304.24" y2="483.2" stroke="#000" stroke-width="0.9"/>
<text x="324.58" y="490.52" text-anchor="middle" font-size="7.0" font-weight="bold">4</text>
<line x1="324.58" y1="481.5" x2="324.58" y2="483.2" stroke="#000" stroke-width="0.9"/>
<text x="344.92" y="490.52" text-anchor="middle" font-size="7.0" font-weight="bold">6</text>
<line x1="344.92" y1="481.5" x2="344.92" y2="483.2" stroke="#000" stroke-width="0.9"/>
<text x="365.26" y="490.52" text-anchor="middle" font-size="7.0" font-weight="bold">8</text>
<line x1="365.26" y1="481.5" x2="365.26" y2="483.2" stroke="#000" stroke-width="0.9"/>
<text x="385.60" y="490.52" text-anchor="middle" font-size="7.0" font-weight="bold">10</text>
<line x1="385.60" y1="481.5" x2="385.60" y2="483.2" stroke="#000" stroke-width="0.9"/>
<path d="M313.75 385.2V396.2M310.65 385.2H316.85M310.65 396.2H316.85" stroke="#000" stroke-width="1.2" fill="none"/>
<path d="M310.4 385.6H317.1" stroke="#000" stroke-width="2" fill="none"/>
<path d="M283.75 362.5L286.25 368.0L284.25 373.25L293.25 376.25L313.75 390.75L384.25 421.75" stroke="#000" stroke-width="1.3" fill="none"/>
<circle cx="283.75" cy="362.5" r="4.7" fill="#000"/>
<circle cx="286.25" cy="368.0" r="4.7" fill="#000"/>
<circle cx="284.25" cy="373.25" r="4.7" fill="#000"/>
<circle cx="293.25" cy="376.25" r="4.7" fill="#000"/>
<circle cx="313.75" cy="390.75" r="4.7" fill="#000"/>
<circle cx="384.25" cy="421.75" r="4.7" fill="#000"/>
<rect x="294.40" y="367.50" width="2.1" height="2.5" rx="0.7" fill="#747474"/>
<rect x="298.50" y="367.50" width="2.1" height="2.5" rx="0.7" fill="#747474"/>
<rect x="310.65" y="379.95" width="2.1" height="2.5" rx="0.7" fill="#747474"/>
<rect x="314.75" y="379.95" width="2.1" height="2.5" rx="0.7" fill="#747474"/>
<rect x="381.30" y="412.65" width="2.1" height="2.5" rx="0.7" fill="#747474"/>
<rect x="385.40" y="412.65" width="2.1" height="2.5" rx="0.7" fill="#747474"/>
<circle cx="283.6" cy="454.7" r="4.15" fill="#fff" stroke="#000" stroke-width="1.2"/>
<rect x="411.9" y="353.6" width="107.30" height="127.90" fill="none" stroke="#000" stroke-width="1.35"/>
<text x="465.3" y="351.0" text-anchor="middle" font-size="11.2" font-weight="bold">CD86</text>
<line x1="410.29999999999995" y1="386.4" x2="411.9" y2="386.4" stroke="#000" stroke-width="0.9"/>
<line x1="410.29999999999995" y1="417.6" x2="411.9" y2="417.6" stroke="#000" stroke-width="0.9"/>
<line x1="410.29999999999995" y1="448.8" x2="411.9" y2="448.8" stroke="#000" stroke-width="0.9"/>
<text x="413.00" y="490.52" text-anchor="middle" font-size="7.0" font-weight="bold">0</text>
<line x1="412.40" y1="481.5" x2="412.40" y2="483.2" stroke="#000" stroke-width="0.9"/>
<text x="432.64" y="490.52" text-anchor="middle" font-size="7.0" font-weight="bold">2</text>
<line x1="432.64" y1="481.5" x2="432.64" y2="483.2" stroke="#000" stroke-width="0.9"/>
<text x="452.88" y="490.52" text-anchor="middle" font-size="7.0" font-weight="bold">4</text>
<line x1="452.88" y1="481.5" x2="452.88" y2="483.2" stroke="#000" stroke-width="0.9"/>
<text x="473.12" y="490.52" text-anchor="middle" font-size="7.0" font-weight="bold">6</text>
<line x1="473.12" y1="481.5" x2="473.12" y2="483.2" stroke="#000" stroke-width="0.9"/>
<text x="493.36" y="490.52" text-anchor="middle" font-size="7.0" font-weight="bold">8</text>
<line x1="493.36" y1="481.5" x2="493.36" y2="483.2" stroke="#000" stroke-width="0.9"/>
<text x="513.60" y="490.52" text-anchor="middle" font-size="7.0" font-weight="bold">10</text>
<line x1="513.60" y1="481.5" x2="513.60" y2="483.2" stroke="#000" stroke-width="0.9"/>
<path d="M411.6 363.75V391.0M408.5 363.75H414.70000000000005M408.5 391.0H414.70000000000005" stroke="#000" stroke-width="1.2" fill="none"/>
<path d="M411.4 368.5H417.6" stroke="#000" stroke-width="1.2" fill="none"/>
<path d="M421.9 364.4V391.0M418.79999999999995 364.4H425.0M418.79999999999995 391.0H425.0" stroke="#000" stroke-width="1.2" fill="none"/>
<path d="M442.0 397.5V407.5M438.9 397.5H445.1M438.9 407.5H445.1" stroke="#000" stroke-width="1.2" fill="none"/>
<path d="M513.0 406.0V422.0M509.9 406.0H516.1M509.9 422.0H516.1" stroke="#000" stroke-width="1.2" fill="none"/>
<path d="M411.5 371.9L415.0 378.1L412.5 386.25L421.9 377.25L442.0 402.5L513.0 413.75" stroke="#000" stroke-width="1.3" fill="none"/>
<circle cx="411.5" cy="371.9" r="4.7" fill="#000"/>
<circle cx="415.0" cy="378.1" r="4.7" fill="#000"/>
<circle cx="412.5" cy="386.25" r="4.7" fill="#000"/>
<circle cx="421.9" cy="377.25" r="4.7" fill="#000"/>
<circle cx="442.0" cy="402.5" r="4.7" fill="#000"/>
<circle cx="513.0" cy="413.75" r="4.7" fill="#000"/>
<rect x="438.80" y="392.35" width="2.1" height="2.5" rx="0.7" fill="#747474"/>
<rect x="442.90" y="392.35" width="2.1" height="2.5" rx="0.7" fill="#747474"/>
<rect x="509.90" y="400.65" width="2.1" height="2.5" rx="0.7" fill="#747474"/>
<rect x="514.00" y="400.65" width="2.1" height="2.5" rx="0.7" fill="#747474"/>
<circle cx="411.75" cy="468.25" r="4.15" fill="#fff" stroke="#000" stroke-width="1.2"/>
<text x="0.4" y="9.6" font-size="12.4" font-weight="bold" style="stroke-width:0.5px">A</text>
<text x="0.6" y="341.9" font-size="12.4" font-weight="bold" style="stroke-width:0.5px">B</text>
<text transform="translate(7.1,86.6) rotate(-90)" text-anchor="middle" font-size="9" font-weight="bold">Cytokin (ng/ml)</text>
<text transform="translate(7.1,238.6) rotate(-90)" text-anchor="middle" font-size="9" font-weight="bold">Cytokin (ng/ml)</text>
<text transform="translate(7.7,418.8) rotate(-90)" text-anchor="middle" font-size="9" font-weight="bold">Median Fluorescent Intensities</text>
<text x="218.6" y="322.5" font-size="9" font-weight="bold">CRA Concentrations (<tspan class="g" font-weight="normal" font-family="Liberation Serif" font-size="10">μ</tspan>M)</text>
<text x="215.2" y="503.4" font-size="9" font-weight="bold">CRA Concentrations (<tspan class="g" font-weight="normal" font-family="Liberation Serif" font-size="10">μ</tspan>M)</text>
</g>
</svg>
</body></html>
